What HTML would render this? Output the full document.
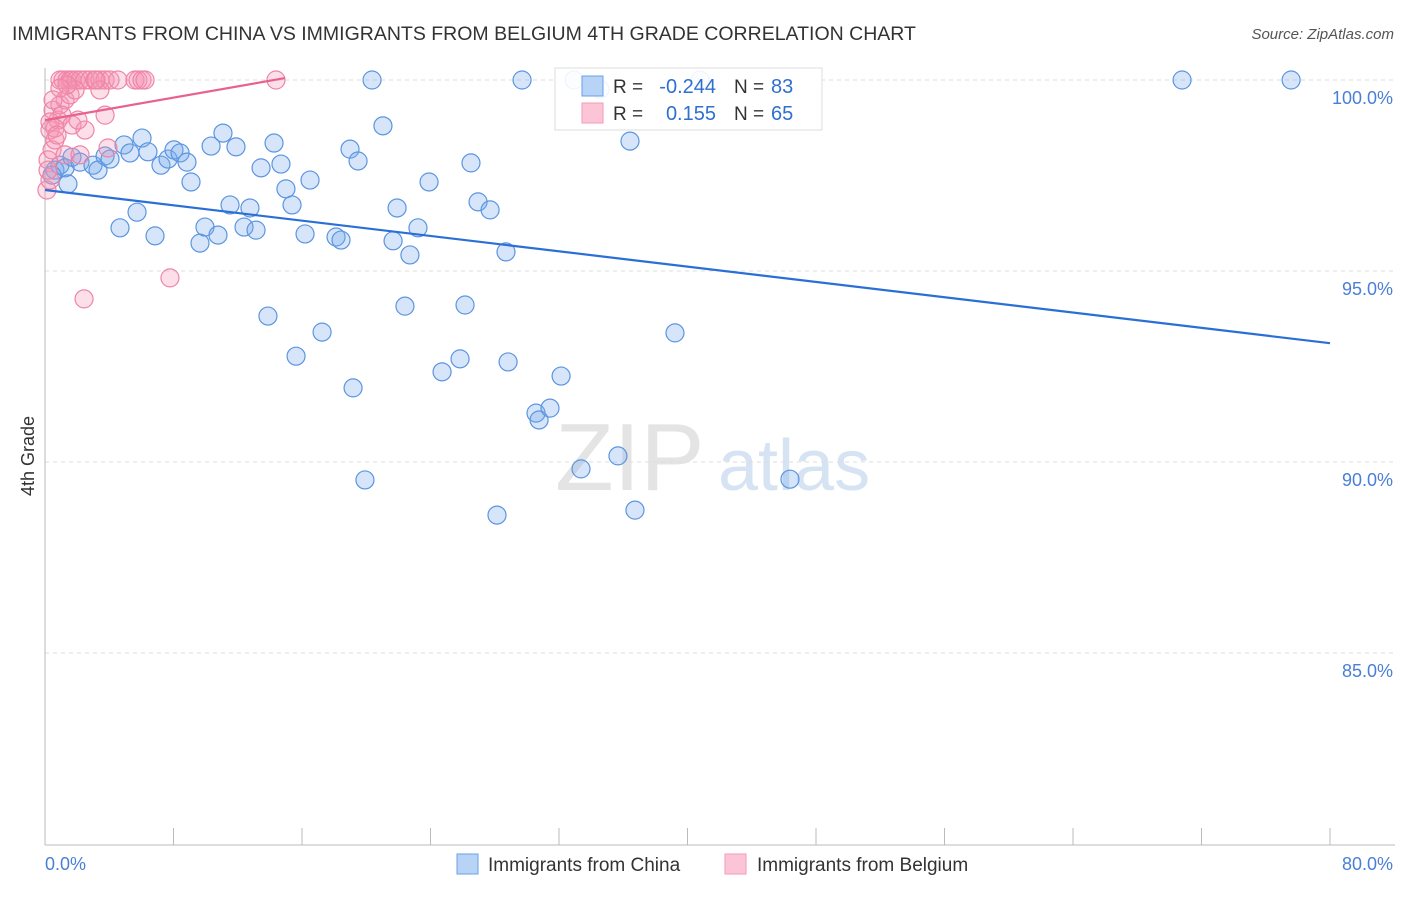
<!DOCTYPE html>
<html><head><meta charset="utf-8"><style>
body{margin:0;background:#fff;font-family:"Liberation Sans",sans-serif}
svg text{font-family:"Liberation Sans",sans-serif}
</style></head><body>
<svg id="c" width="1406" height="892"></svg>
<script>
const blueX=[0.62,0.93,1.25,1.43,1.68,2.18,2.99,3.30,3.74,4.05,4.67,4.92,5.29,5.73,6.04,6.41,6.85,7.22,7.66,8.03,8.41,8.84,9.09,9.65,9.96,10.34,10.77,11.08,11.52,11.89,12.39,12.76,13.14,13.45,13.88,14.26,14.69,15.00,15.38,15.63,16.19,16.50,17.25,18.12,18.43,18.99,19.18,19.49,19.92,20.36,21.04,21.67,21.92,22.41,22.72,23.22,23.91,24.72,25.84,26.15,26.52,26.96,27.71,28.14,28.70,28.83,29.70,30.57,30.76,31.44,32.13,32.94,33.37,34.55,35.67,36.42,36.73,39.22,40.78,46.38,70.79,77.58,0.44];
const blueY=[97.64,97.77,97.70,97.28,97.98,97.85,97.77,97.64,98.01,97.93,96.13,98.30,98.09,96.54,98.48,98.12,95.92,97.77,97.93,98.17,98.09,97.85,97.33,95.73,96.15,98.27,95.94,98.61,96.73,98.25,96.15,96.65,96.07,97.70,93.82,98.35,97.80,97.15,96.73,92.77,95.97,97.38,93.40,95.89,95.81,98.19,91.94,97.88,89.53,100,98.80,95.79,96.65,94.08,95.42,96.13,97.33,92.36,92.70,94.11,97.83,96.81,96.60,88.61,95.50,92.62,100,91.28,91.10,91.41,92.25,100,89.82,99.76,90.16,98.40,88.74,93.38,100,89.55,100,100,97.51];
const pinkX=[0.93,1.12,1.37,1.56,1.68,1.93,2.18,2.49,2.80,3.11,3.42,3.74,4.05,4.54,5.60,5.79,6.04,6.23,14.38,0.12,0.31,0.19,0.44,0.62,0.31,0.81,0.50,0.93,1.25,1.56,1.87,1.37,1.06,1.68,2.49,3.42,3.74,2.05,1.25,0.31,0.62,7.78,2.43,0.75,0.19,0.50,2.18,3.92,3.18,0.93];
const pinkY=[100,100,100,100,100,100,100,100,100,100,100,100,100,100,100,100,100,100,100,97.12,97.38,97.91,98.17,98.43,98.69,98.95,99.21,99.35,99.48,99.61,99.74,99.87,99.08,98.82,98.69,99.74,99.08,98.95,98.04,98.90,98.74,94.82,94.27,98.56,97.64,99.48,98.04,98.22,100,99.79];
const blueTrend=[97.12,93.11];
const pinkTrend=[98.95,100.05];
const pinkTrendX=[0,14.94];
const yTicks=[100,95,90,85];
const NS="http://www.w3.org/2000/svg";
const svg=document.getElementById('c');
const X=v=>45+v/80*1285;
const Y=v=>80+(100-v)*38.2;
function el(t,a,p){const e=document.createElementNS(NS,t);for(const k in a)e.setAttribute(k,a[k]);(p||svg).appendChild(e);return e;}
let t=el('text',{x:12,y:40,'font-size':19.5,fill:'#333'});t.textContent='IMMIGRANTS FROM CHINA VS IMMIGRANTS FROM BELGIUM 4TH GRADE CORRELATION CHART';


t=el('text',{x:1394,y:39,'font-size':15,fill:'#555','text-anchor':'end','font-style':'italic'});t.textContent='Source: ZipAtlas.com';


t=el('text',{x:555,y:490,'font-size':96,fill:'#e4e4e4','font-family':'Liberation Serif'});t.textContent='ZIP';


t=el('text',{x:718,y:490,'font-size':72,fill:'#d6e3f3'});t.textContent='atlas';


yTicks.forEach(v=>{
 const g=el('line',{x1:45,x2:1395,y1:Y(v),y2:Y(v),stroke:'#ddd','stroke-dasharray':'4,4'});
 
 
 const l=el('text',{x:1393,y:Y(v)+24,'font-size':18,fill:'#4a7fd6','text-anchor':'end'});l.textContent=v.toFixed(1)+'%';
 
 
});
let a=el('line',{x1:45,x2:45,y1:68,y2:845,stroke:'#bbb'});
a=el('line',{x1:45,x2:1395,y1:845,y2:845,stroke:'#bbb'});
for(let i=0;i<=10;i++){const k=el('line',{x1:X(i*8),x2:X(i*8),y1:828,y2:845,stroke:'#bbb'});}
t=el('text',{x:45,y:870,'font-size':18,fill:'#4a7fd6'});t.textContent='0.0%';
t=el('text',{x:1393,y:870,'font-size':18,fill:'#4a7fd6','text-anchor':'end'});t.textContent='80.0%';
t=el('text',{x:34,y:456,'font-size':18,fill:'#333','text-anchor':'middle',transform:'rotate(-90 34 456)'});t.textContent='4th Grade';
blueX.forEach((v,i)=>{const c=el('circle',{cx:X(v),cy:Y(blueY[i]),r:9,fill:'rgba(120,170,235,0.3)',stroke:'#5b95e0','stroke-width':1.2});
 
 });
pinkX.forEach((v,i)=>{const c=el('circle',{cx:X(v),cy:Y(pinkY[i]),r:9,fill:'rgba(245,150,180,0.3)',stroke:'#ef85a8','stroke-width':1.2});
 
 });
let ln=el('line',{x1:X(0),y1:Y(blueTrend[0]),x2:X(80),y2:Y(blueTrend[1]),stroke:'#2a6fd6','stroke-width':2.2});

ln=el('line',{x1:X(pinkTrendX[0]),y1:Y(pinkTrend[0]),x2:X(pinkTrendX[1]),y2:Y(pinkTrend[1]),stroke:'#e8628f','stroke-width':2.2});

const lg=el('g',{});
el('rect',{x:555,y:68,width:267,height:62,fill:'rgba(255,255,255,0.9)',stroke:'#ddd'},lg);
el('rect',{x:582,y:76,width:21,height:20,fill:'#b7d3f5',stroke:'#6aa0e6'},lg);
el('rect',{x:582,y:103,width:21,height:20,fill:'#fbc5d6',stroke:'#f09ab8'},lg);
[['R = ','-0.244','83',93],['R = ','0.155','65',120]].forEach(r=>{
 let s=el('text',{x:613,y:r[3],'font-size':19,fill:'#333'},lg);s.textContent=r[0];
 s=el('text',{x:716,y:r[3],'font-size':20,fill:'#2f6fd0','text-anchor':'end'},lg);s.textContent=r[1];
 s=el('text',{x:734,y:r[3],'font-size':19,fill:'#333'},lg);s.textContent='N = ';
 s=el('text',{x:771,y:r[3],'font-size':20,fill:'#2f6fd0'},lg);s.textContent=r[2];
});
const bl=el('g',{});
el('rect',{x:457,y:854,width:21,height:20,fill:'#b7d3f5',stroke:'#6aa0e6'},bl);
t=el('text',{x:488,y:871,'font-size':19,fill:'#333'},bl);t.textContent='Immigrants from China';

el('rect',{x:725,y:854,width:21,height:20,fill:'#fbc5d6',stroke:'#f09ab8'},bl);
t=el('text',{x:757,y:871,'font-size':19,fill:'#333'},bl);t.textContent='Immigrants from Belgium';

</script>
</body></html>
